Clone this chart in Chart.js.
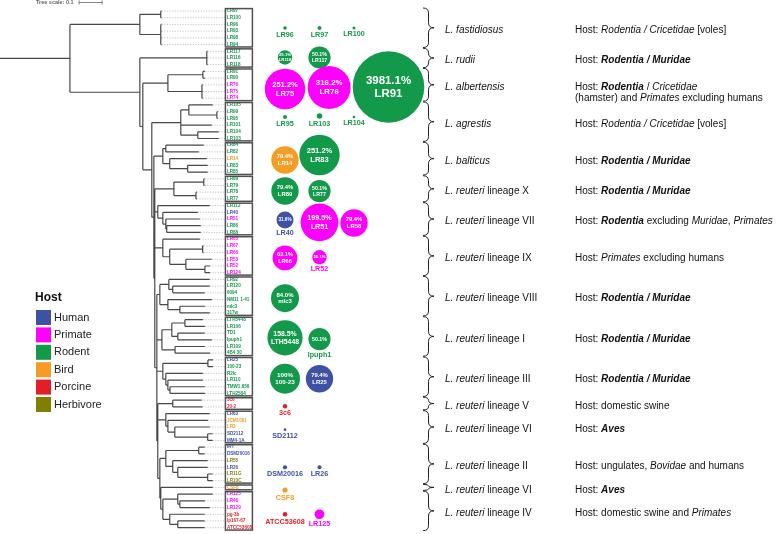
<!DOCTYPE html>
<html>
<head>
<meta charset="utf-8">
<script src="https://cdn.jsdelivr.net/npm/chart.js@4.4.1/dist/chart.umd.min.js"></script>
<style>
  body { margin: 0; background: #fff; }
  #wrap { width: 778px; height: 534px; }
</style>
</head>
<body>
<div id="wrap"><canvas id="tree" width="778" height="534"></canvas></div>
<script>
const FONT = '"Liberation Sans", Arial, sans-serif';

// Phylogeny (newick, branch lengths in substitutions per site)
const newick = [
  '(',
  '((LR97:0.004,LR100:0.004):0.091,(LR96:0.004,LR93:0.004,LR98:0.004,LR94:0.004):0.091):0.304,',
  '((LR117:0.004,LR116:0.004,LR118:0.004):0.291,',
  '(((LR91:0.009,LR90:0.009):0.152,(LR76:0.004,LR75:0.004,LR74:0.004):0.148):0.109,',
  '(((LR105:0.104,(LR99:0.004,LR95:0.004):0.122):0.035,LR101:0.135,(LR104:0.091,LR103:0.091):0.074):0.126,',
  '(((LR84:0.165,LR82:0.143):0.013,(LR14:0.161,(LR83:0.087,LR85:0.087):0.078):0.030):0.039,',
  '(((LR89:0.004,LR79:0.004):0.130,(LR78:0.004,LR77:0.004):0.096):0.083,',
  '(LR112:0.226,(LR40:0.152,(LR51:0.148,(LR86:0.148,LR88:0.148):0.004):0.013):0.022):0.013,',
  '(LR65:0.161,((LR67:0.004,LR66:0.004):0.143,(LR53:0.113,(LR52:0.022,LR124:0.022):0.083):0.070):0.030):0.035,',
  '(((LR92:0.178,(LR120:0.161,6094:0.139):0.017):0.039,(NM11 1-41:0.191,(mlc3:0.109,317w:0.130):0.052):0.035):0.013,',
  '(((LTH5448:0.078,LR106:0.087):0.057,(TD1:0.117,Ipuph1:0.148):0.026):0.043,(LR109:0.130,4B4 30:0.152):0.057):0.022,',
  '((LR25:0.022,100-23:0.022):0.196,(R2lc:0.161,(LR110:0.152,(TMW1.656:0.152,LTH2584:0.152):0.009):0.009):0.013):0.026,',
  '((3c6:0.126,20-2:0.130):0.065,',
  '(LR63:0.191,(JCM1081:0.174,(LR3:0.152,(SD2112:0.022,MM4-1A:0.022):0.143):0.030):0.009):0.035,',
  '(((IRT:0.026,DSM20016:0.026):0.143,(LR55:0.152,(LR26:0.130,(LR11G:0.022,LR10C:0.022):0.130):0.022):0.030):0.026,',
  '(CSF8:0.226,((LR125:0.152,(LR46:0.109,LR129:0.130):0.009):0.065,(pg-3b:0.152,(lp167-67:0.117,ATCC53608:0.117):0.035):0.030):0.009):0.004',
  '):0.009):0.004):0.009):0.004):0.009):0.039):0.013):0.304):0.304;'
].join('');

// leaf host (everything not listed is Rodent)
const humanLeaves = ['LR40', 'LR25', 'LR63', 'SD2112', 'MM4-1A', 'IRT', 'DSM20016', 'LR26'];
const primateLeaves = ['LR76', 'LR75', 'LR74', 'LR51', 'LR65', 'LR67', 'LR66', 'LR53', 'LR52', 'LR124', 'LR125', 'LR46', 'LR129'];
const birdLeaves = ['LR14', 'JCM1081', 'LR3', 'CSF8'];
const porcineLeaves = ['3c6', '20-2', 'pg-3b', 'lp167-67', 'ATCC53608'];
const herbivoreLeaves = ['LR55', 'LR11G', 'LR10C'];

// clades, top to bottom
const cladeSizes = [6, 3, 5, 6, 5, 4, 5, 6, 6, 6, 6, 2, 5, 6, 1, 6];
const cladeNames = [
  [['L. fastidiosus', 'i']],
  [['L. rudii', 'i']],
  [['L. albertensis', 'i']],
  [['L. agrestis', 'i']],
  [['L. balticus', 'i']],
  [['L. reuteri', 'i'], [' lineage X', '']],
  [['L. reuteri', 'i'], [' lineage VII', '']],
  [['L. reuteri', 'i'], [' lineage IX', '']],
  [['L. reuteri', 'i'], [' lineage VIII', '']],
  [['L. reuteri', 'i'], [' lineage I', '']],
  [['L. reuteri', 'i'], [' lineage III', '']],
  [['L. reuteri', 'i'], [' lineage V', '']],
  [['L. reuteri', 'i'], [' lineage VI', '']],
  [['L. reuteri', 'i'], [' lineage II', '']],
  [['L. reuteri', 'i'], [' lineage VI', '']],
  [['L. reuteri', 'i'], [' lineage IV', '']]
];
const muridae = [[['Host: ', ''], ['Rodentia / Muridae', 'bi']]];
const cladeHosts = [
  [[['Host: ', ''], ['Rodentia / Cricetidae', 'i'], [' [voles]', '']]],
  muridae,
  [[['Host: ', ''], ['Rodentia', 'bi'], [' / ', ''], ['Cricetidae', 'i']],
   [['(hamster) and ', ''], ['Primates', 'i'], [' excluding humans', '']]],
  [[['Host: ', ''], ['Rodentia / Cricetidae', 'i'], [' [voles]', '']]],
  muridae,
  muridae,
  [[['Host: ', ''], ['Rodentia', 'bi'], [' excluding ', ''], ['Muridae', 'i'], [', ', ''], ['Primates', 'i']]],
  [[['Host: ', ''], ['Primates', 'i'], [' excluding humans', '']]],
  muridae,
  muridae,
  muridae,
  [[['Host: domestic swine', '']]],
  [[['Host: ', ''], ['Aves', 'bi']]],
  [[['Host: ungulates, ', ''], ['Bovidae', 'i'], [' and humans', '']]],
  [[['Host: ', ''], ['Aves', 'bi']]],
  [[['Host: domestic swine and ', ''], ['Primates', 'i']]]
];

// relative abundance bubbles (% , column, leaf row)
const bubbleNames = ['LR96', 'LR97', 'LR100', 'LR118', 'LR117', 'LR75', 'LR76', 'LR91', 'LR95', 'LR103', 'LR104',
  'LR14', 'LR83', 'LR89', 'LR77', 'LR40', 'LR51', 'LR58', 'LR66', 'LR52', 'mlc3', 'LTH5448', 'Ipuph1',
  '100-23', 'LR25', '3c6', 'SD2112', 'DSM20016', 'LR26', 'CSF8', 'ATCC53608', 'LR125'];
const bubbleHosts = ['Rodent', 'Rodent', 'Rodent', 'Rodent', 'Rodent', 'Primate', 'Primate', 'Rodent', 'Rodent', 'Rodent', 'Rodent',
  'Bird', 'Rodent', 'Rodent', 'Rodent', 'Human', 'Primate', 'Primate', 'Primate', 'Primate', 'Rodent', 'Rodent', 'Rodent',
  'Rodent', 'Human', 'Porcine', 'Human', 'Human', 'Human', 'Bird', 'Porcine', 'Primate'];
const bubbleValues = [9.7, 10.0, 9.2, 25.1, 50.1, 251.2, 316.2, 3981.1, 10.0, 11.5, 8.9,
  79.4, 251.2, 79.4, 50.1, 31.6, 199.5, 79.4, 63.1, 25.1, 84.0, 158.5, 50.1,
  100, 79.4, 10.4, 8.9, 10.2, 10.0, 11.2, 10.5, 16.6];
const bubbleCols = [0, 1, 2, 0, 1, 0, 1.28, 3, 0, 1, 2, 0, 1, 0, 1, 0, 1, 2, 0, 1, 0, 0, 1, 0, 1, 0, 0, 0, 1, 0, 0, 1];
const bubbleRows = [2.53, 2.53, 2.53, 6.93, 6.93, 11.62, 11.4, 11.33, 15.8, 15.65, 15.8, 22.2, 21.46, 26.83, 26.83,
  31.15, 31.5, 31.6, 36.8, 36.7, 42.8, 48.7, 48.9, 54.8, 54.8, 58.9, 62.4, 68.0, 68.0, 71.4, 75.0, 75.0];
const nameBelow = ['LR40', 'LR52', 'Ipuph1'];

const hostNames = ['Human', 'Primate', 'Rodent', 'Bird', 'Porcine', 'Herbivore'];
const hostColors = {
  Human: '#3f51a5', Primate: '#ff00ff', Rodent: '#12994a',
  Bird: '#f49c23', Porcine: '#e41e26', Herbivore: '#808000'
};

function hostOfLeaf(name) {
  if (humanLeaves.includes(name)) return 'Human';
  if (primateLeaves.includes(name)) return 'Primate';
  if (birdLeaves.includes(name)) return 'Bird';
  if (porcineLeaves.includes(name)) return 'Porcine';
  if (herbivoreLeaves.includes(name)) return 'Herbivore';
  return 'Rodent';
}

// --- newick parsing and layout ---
function parseNewick(s) {
  let i = 0;
  function node() {
    const n = { children: [], name: '', len: 0 };
    if (s[i] === '(') {
      i++;
      n.children.push(node());
      while (s[i] === ',') { i++; n.children.push(node()); }
      i++;
    }
    let name = '';
    while (i < s.length && !':,();'.includes(s[i])) name += s[i++];
    n.name = name.trim();
    if (s[i] === ':') {
      i++;
      let num = '';
      while (i < s.length && !',();'.includes(s[i])) num += s[i++];
      n.len = parseFloat(num);
    }
    return n;
  }
  return node();
}

const root = parseNewick(newick);
const leaves = [];
(function layout(n, x0) {
  n.x = x0 + n.len;
  if (!n.children.length) {
    n.y = leaves.length;
    leaves.push(n);
  } else {
    n.children.forEach(c => layout(c, n.x));
    n.y = (n.children[0].y + n.children[n.children.length - 1].y) / 2;
  }
})(root, 0);

const gap = () => ({ x: null, y: null });
const branches = [{ x: 0, y: root.y }, { x: root.x, y: root.y }, gap()];
(function walk(n) {
  if (!n.children.length) return;
  const a = n.children[0], b = n.children[n.children.length - 1];
  branches.push({ x: n.x, y: a.y }, { x: n.x, y: b.y }, gap());
  n.children.forEach(c => {
    branches.push({ x: n.x, y: c.y }, { x: c.x, y: c.y }, gap());
    walk(c);
  });
})(root);

const labelX = 0.98;
const guides = [];
leaves.forEach(l => guides.push({ x: l.x, y: l.y }, { x: labelX, y: l.y }, gap()));

// bubble radius from abundance (log scale)
function radiusOf(v) {
  return Math.max(1.3, 2 + 13 * (Math.log10(v) - 1));
}
function pctText(v) {
  return (Number.isInteger(v) && v >= 100) ? v + '%' : v.toFixed(1) + '%';
}

function setFont(ctx, style, size) {
  ctx.font = (style.includes('i') ? 'italic ' : '') + (style.includes('b') ? 'bold ' : '') + size + 'px ' + FONT;
}
function drawRich(ctx, segs, x, y, size) {
  segs.forEach(([t, st]) => {
    setFont(ctx, st, size);
    ctx.fillText(t, x, y);
    x += ctx.measureText(t).width;
  });
}
function brace(ctx, x, y0, y1) {
  const ym = (y0 + y1) / 2, w = 11, m = x + w * 0.5;
  const q = Math.min(5, (y1 - y0) / 4);
  ctx.beginPath();
  ctx.moveTo(x, y0);
  ctx.quadraticCurveTo(m, y0, m, y0 + q);
  ctx.lineTo(m, ym - q);
  ctx.quadraticCurveTo(m, ym, x + w, ym);
  ctx.quadraticCurveTo(m, ym, m, ym + q);
  ctx.lineTo(m, y1 - q);
  ctx.quadraticCurveTo(m, y1, x, y1);
  ctx.stroke();
}

const decor = {
  id: 'decor',
  afterDatasetsDraw(chart) {
    const ctx = chart.ctx;
    const xt = chart.scales.xt, y = chart.scales.y;
    ctx.save();
    ctx.textBaseline = 'middle';
    ctx.textAlign = 'left';

    // tree scale
    const s0 = xt.getPixelForValue(0.344), s1 = xt.getPixelForValue(0.444);
    ctx.fillStyle = '#666';
    setFont(ctx, 'b', 5.5);
    ctx.fillText('Tree scale: 0.1', 36, 2.5);
    ctx.strokeStyle = '#666';
    ctx.lineWidth = 0.8;
    ctx.beginPath();
    ctx.moveTo(s0, 2.5); ctx.lineTo(s1, 2.5);
    ctx.moveTo(s0, 0.5); ctx.lineTo(s0, 4.5);
    ctx.moveTo(s1, 0.5); ctx.lineTo(s1, 4.5);
    ctx.stroke();

    // leaf labels
    const lx = xt.getPixelForValue(labelX) + 1.5;
    setFont(ctx, 'b', 4.6);
    leaves.forEach(l => {
      ctx.fillStyle = hostColors[hostOfLeaf(l.name)];
      ctx.fillText(l.name, lx, y.getPixelForValue(l.y));
    });

    // clade boxes, braces and texts
    let start = 0;
    cladeSizes.forEach((n, k) => {
      const last = start + n - 1;
      ctx.strokeStyle = '#505050';
      ctx.lineWidth = 1.5;
      const top = y.getPixelForValue(start - 0.36), bot = y.getPixelForValue(last + 0.36);
      ctx.strokeRect(lx - 1.5, top, 27, bot - top);

      ctx.strokeStyle = '#222';
      ctx.lineWidth = 1;
      brace(ctx, 423, y.getPixelForValue(start - 0.45), y.getPixelForValue(last + 0.45));

      const cy = y.getPixelForValue((start + last) / 2) + 2.5;
      ctx.fillStyle = '#111';
      drawRich(ctx, cladeNames[k], 445, cy, 10);
      cladeHosts[k].forEach((line, j) => drawRich(ctx, line, 575, cy + j * 11, 10));
      start += n;
    });

    // bubble labels
    const meta = chart.getDatasetMeta(2);
    meta.data.forEach((el, i) => {
      const r = el.options.radius, v = bubbleValues[i];
      const fs = 2.5 + 0.25 * r;
      ctx.textAlign = 'center';
      const below = () => {
        ctx.fillStyle = hostColors[bubbleHosts[i]];
        setFont(ctx, 'b', 7.2);
        ctx.fillText(bubbleNames[i], el.x, el.y + r + 5);
      };
      if (v < 20) {
        below();
      } else if (nameBelow.includes(bubbleNames[i])) {
        ctx.fillStyle = '#fff';
        setFont(ctx, 'b', fs);
        ctx.fillText(pctText(v), el.x, el.y);
        below();
      } else {
        ctx.fillStyle = '#fff';
        setFont(ctx, 'b', fs);
        ctx.fillText(pctText(v), el.x, el.y - 0.55 * fs);
        ctx.fillText(bubbleNames[i], el.x, el.y + 0.6 * fs);
      }
    });

    // host legend
    ctx.textAlign = 'left';
    ctx.fillStyle = '#111';
    setFont(ctx, 'b', 12);
    ctx.fillText('Host', 35, 298);
    hostNames.forEach((h, i) => {
      const ty = 310 + i * 17.4;
      ctx.fillStyle = hostColors[h];
      ctx.fillRect(36, ty, 15, 15);
      ctx.fillStyle = '#222';
      setFont(ctx, '', 11);
      ctx.fillText(h, 54, ty + 7.5);
    });
    ctx.restore();
  }
};

new Chart(document.getElementById('tree'), {
  type: 'bubble',
  data: {
    datasets: [
      {
        type: 'line',
        data: branches,
        xAxisID: 'xt', yAxisID: 'y',
        borderColor: '#484848', borderWidth: 1.2,
        pointRadius: 0, spanGaps: false, tension: 0, order: 3
      },
      {
        type: 'line',
        data: guides,
        xAxisID: 'xt', yAxisID: 'y',
        borderColor: '#b5b5b5', borderWidth: 0.8, borderDash: [1.2, 1.4],
        pointRadius: 0, spanGaps: false, tension: 0, order: 2
      },
      {
        type: 'bubble',
        data: bubbleValues.map((v, i) => ({ x: bubbleCols[i], y: bubbleRows[i], r: radiusOf(v) })),
        xAxisID: 'xb', yAxisID: 'y',
        backgroundColor: bubbleHosts.map(h => hostColors[h]),
        borderWidth: 0, order: 1
      }
    ]
  },
  options: {
    responsive: false,
    devicePixelRatio: 1,
    animation: false,
    events: [],
    layout: { padding: 0, autoPadding: false },
    scales: {
      xt: { type: 'linear', axis: 'x', display: false, min: 0, max: 778 / 230 },
      xb: { type: 'linear', axis: 'x', display: false, min: -285 / 34.5, max: (778 - 285) / 34.5 },
      y: { type: 'linear', display: false, reverse: true, min: -11 / 6.71, max: (534 - 11) / 6.71 }
    },
    plugins: { legend: { display: false }, tooltip: { enabled: false } }
  },
  plugins: [decor]
});
</script>
</body>
</html>
